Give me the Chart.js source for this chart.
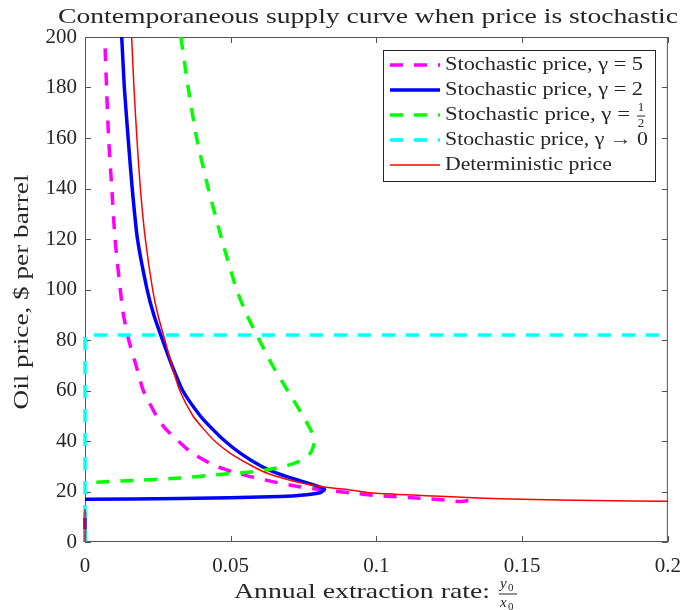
<!DOCTYPE html>
<html>
<head>
<meta charset="utf-8">
<script src="https://cdn.jsdelivr.net/npm/chart.js@4.4.1/dist/chart.umd.min.js"></script>
<style>
  html, body { margin: 0; padding: 0; background: #fff; }
  #wrap { width: 685px; height: 610px; }
</style>
</head>
<body>
<div id="wrap"><canvas id="supply" width="685" height="610"></canvas></div>
<script>
// annual extraction rate (y0/x0) against oil price ($ per barrel), one pair of arrays per curve
const gamma5X = [0.0069, 0.0074, 0.0081, 0.0092, 0.0103, 0.0121, 0.0132, 0.015, 0.0175, 0.0200, 0.0245, 0.0275, 0.032, 0.037, 0.045, 0.053, 0.064, 0.073, 0.079, 0.0909, 0.1, 0.115, 0.125, 0.1286, 0.1344];
const gamma5Y = [195.5, 180, 160, 140, 120, 100, 90, 80, 70, 60, 50, 45, 40, 35, 30, 27, 24, 22, 21, 19.5, 18.4, 17.3, 16.5, 16.0, 16.9];

const gamma2X = [0.0126, 0.0135, 0.0148, 0.0162, 0.018, 0.0213, 0.0236, 0.0266, 0.0298, 0.0335, 0.0395, 0.0435, 0.048, 0.0535, 0.0605, 0.0665, 0.0745, 0.080, 0.0822, 0.0805, 0.076, 0.0669, 0.0326, 0, null, 0, 0];
const gamma2Y = [200, 180, 160, 140, 120, 100, 90, 80, 70, 60, 50, 45, 40, 35, 30, 27, 24, 22, 20.8, 19.5, 18.7, 18.0, 17.2, 16.9, null, 12, 0];

const gammaHalfX = [0.0329, 0.0354, 0.0383, 0.0423, 0.0469, 0.052, 0.0555, 0.0598, 0.0643, 0.0695, 0.0748, 0.0772, 0.0786, 0.0784, 0.0772, 0.0735, 0.0685, 0.062, 0.055, 0.044, 0.0326, 0.015, 0.0023, 0];
const gammaHalfY = [200, 180, 160, 140, 120, 100, 90, 80, 70, 60, 50, 45, 41, 38, 35, 32, 30, 28.5, 27.5, 26.5, 25.3, 24.3, 23.6, 23.5];

const gammaZeroX = [0, 0, 0.2];
const gammaZeroY = [0, 82, 82];

const detX = [0.016, 0.0168, 0.0178, 0.019, 0.0207, 0.0232, 0.025, 0.0274, 0.0298, 0.0325, 0.037, 0.0405, 0.0445, 0.05, 0.0575, 0.063, 0.072, 0.081, 0.091, 0.1, 0.12, 0.135, 0.15, 0.175, 0.2, null, 0, 0];
const detY = [200, 180, 160, 140, 120, 100, 90, 80, 70, 60, 50, 45, 40, 35, 30, 27, 24, 22, 20.6, 19.3, 18.2, 17.4, 16.9, 16.4, 16.1, null, 13, 0];

const legendLabels = [
  'Stochastic price, γ = 5',
  'Stochastic price, γ = 2',
  'Stochastic price, γ = 1/2',
  'Stochastic price, γ → 0',
  'Deterministic price'
];

const xTickValues = [0, 0.05, 0.1, 0.15, 0.2];
const yTickValues = [0, 20, 40, 60, 80, 100, 120, 140, 160, 180, 200];

const SERIF = '"Liberation Serif", "Times New Roman", serif';
const INK = '#262626';

const pts = (xs, ys) => xs.map((x, i) => ({ x: x, y: ys[i] }));

const styles = [
  { color: '#ff00ff', width: 3.5, dash: [13, 11], tension: 0.2 },
  { color: '#0000ff', width: 3.5, dash: [], tension: 0.2 },
  { color: '#00ff00', width: 3.5, dash: [13, 11], tension: 0.2 },
  { color: '#00ffff', width: 3.5, dash: [13, 11], tension: 0 },
  { color: '#ff0000', width: 1.5, dash: [], tension: 0.2 }
];
const curves = [
  pts(gamma5X, gamma5Y),
  pts(gamma2X, gamma2Y),
  pts(gammaHalfX, gammaHalfY),
  pts(gammaZeroX, gammaZeroY),
  pts(detX, detY)
];

// legend text widths in px (label text only, fraction row: text before the fraction)
const legendTextWidths = [198, 198, 185, 203, 167];

// stretch text horizontally so the serif face spans the given width
function fitText(ctx, str, x, y, width, align) {
  const w = ctx.measureText(str).width;
  const sx = width ? width / w : 1;
  ctx.save();
  ctx.translate(align === 'center' ? x - w * sx / 2 : x, y);
  ctx.scale(sx, 1);
  ctx.textAlign = 'left';
  ctx.fillText(str, 0, 0);
  ctx.restore();
  return w * sx;
}

const decor = {
  id: 'decor',
  // box and inward ticks go under the curves
  beforeDatasetsDraw(chart) {
    const { ctx, chartArea: a, scales } = chart;
    const sx = scales.x, sy = scales.y;
    ctx.save();
    ctx.setLineDash([]);
    ctx.strokeStyle = '#555';
    ctx.lineWidth = 1;
    ctx.strokeRect(a.left + 0.5, a.top + 0.5, a.right - a.left - 1, a.bottom - a.top - 1);
    const tl = 6;
    ctx.beginPath();
    xTickValues.forEach(v => {
      const px = Math.round(sx.getPixelForValue(v)) + 0.5;
      ctx.moveTo(px, a.bottom); ctx.lineTo(px, a.bottom - tl);
      ctx.moveTo(px, a.top); ctx.lineTo(px, a.top + tl);
    });
    yTickValues.forEach(v => {
      const py = Math.round(sy.getPixelForValue(v)) + 0.5;
      ctx.moveTo(a.left, py); ctx.lineTo(a.left + tl, py);
      ctx.moveTo(a.right, py); ctx.lineTo(a.right - tl, py);
    });
    ctx.stroke();
    ctx.restore();
  },
  afterDraw(chart) {
    const ctx = chart.ctx;
    ctx.save();
    ctx.fillStyle = INK;
    ctx.textBaseline = 'middle';

    // title
    ctx.font = '22px ' + SERIF;
    fitText(ctx, 'Contemporaneous supply curve when price is stochastic', 368, 17, 620, 'center');

    // y axis title
    ctx.save();
    ctx.translate(22, 292);
    ctx.rotate(-Math.PI / 2);
    fitText(ctx, 'Oil price, $ per barrel', 0, 0, 235, 'center');
    ctx.restore();

    // x axis title with y0/x0 fraction
    const wx = fitText(ctx, 'Annual extraction rate:', 234, 592, 256, 'left');
    const fx = 234 + wx + 10;
    ctx.font = 'italic 15px ' + SERIF;
    ctx.fillText('y', fx, 584);
    ctx.fillText('x', fx, 603);
    ctx.font = '11px ' + SERIF;
    ctx.fillText('0', fx + 8, 588);
    ctx.fillText('0', fx + 8, 607);
    ctx.fillRect(fx - 1, 593.5, 18, 1);

    // legend
    const lx = 383, ly = 50, lw = 272, lh = 131;
    ctx.fillStyle = '#fff';
    ctx.fillRect(lx, ly, lw, lh);
    ctx.strokeStyle = '#262626';
    ctx.lineWidth = 1;
    ctx.strokeRect(lx + 0.5, ly + 0.5, lw, lh);
    legendLabels.forEach((label, i) => {
      const rowY = 65 + i * 25;
      const st = styles[i];
      ctx.strokeStyle = st.color;
      ctx.lineWidth = st.width;
      ctx.setLineDash(st.dash);
      ctx.beginPath();
      ctx.moveTo(390, rowY); ctx.lineTo(440, rowY);
      ctx.stroke();
      ctx.setLineDash([]);
      ctx.fillStyle = INK;
      ctx.font = '19px ' + SERIF;
      if (label.endsWith('1/2')) {
        const head = label.slice(0, -3).trimEnd();
        const w = fitText(ctx, head, 445, rowY, legendTextWidths[i], 'left');
        const cx = 445 + w + 11;
        ctx.font = '13px ' + SERIF;
        ctx.textAlign = 'center';
        ctx.fillText('1', cx, rowY - 7);
        ctx.fillText('2', cx, rowY + 9);
        ctx.fillRect(cx - 4, rowY + 0.5, 8, 1);
        ctx.textAlign = 'left';
      } else {
        fitText(ctx, label, 445, rowY, legendTextWidths[i], 'left');
      }
    });
    ctx.restore();
  }
};

new Chart(document.getElementById('supply'), {
  type: 'scatter',
  data: {
    datasets: curves.map((data, i) => ({
      label: legendLabels[i],
      data: data,
      showLine: true,
      spanGaps: false,
      borderColor: styles[i].color,
      borderWidth: styles[i].width,
      borderDash: styles[i].dash,
      pointRadius: 0,
      tension: styles[i].tension,
      clip: { left: 4, top: 0, right: 0, bottom: 4 },
      order: 5 - i
    }))
  },
  options: {
    responsive: false,
    animation: false,
    devicePixelRatio: 1,
    layout: { padding: { top: 37, right: 7, left: 0, bottom: 0 } },
    plugins: { legend: { display: false }, tooltip: { enabled: false }, title: { display: false } },
    scales: {
      x: {
        type: 'linear', min: 0, max: 0.2,
        afterBuildTicks: s => { s.ticks = xTickValues.map(v => ({ value: v })); },
        afterFit: s => { s.height = 68; },
        grid: { display: false },
        border: { display: false },
        ticks: {
          color: INK, padding: 4, maxRotation: 0,
          font: { family: SERIF, size: 21 },
          callback: v => String(+v.toFixed(2))
        }
      },
      y: {
        type: 'linear', min: 0, max: 200,
        afterBuildTicks: s => { s.ticks = yTickValues.map(v => ({ value: v })); },
        afterFit: s => { s.width = 85; },
        grid: { display: false },
        border: { display: false },
        ticks: { color: INK, padding: 0, font: { family: SERIF, size: 21 } }
      }
    }
  },
  plugins: [decor]
});
</script>
</body>
</html>
